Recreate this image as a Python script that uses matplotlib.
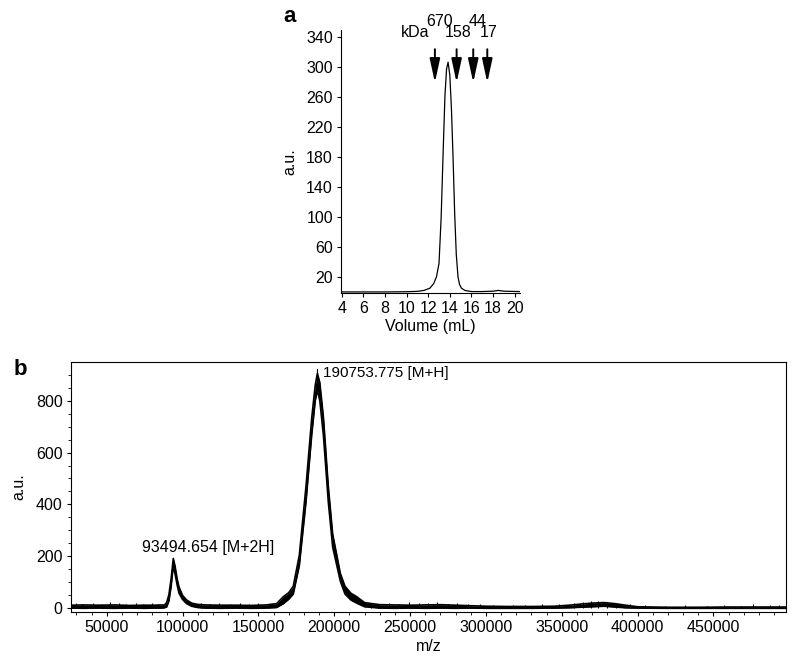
import numpy as np
import matplotlib
matplotlib.use("Agg")
import matplotlib.pyplot as plt

plt.rcParams['font.family'] = ['Liberation Sans', 'DejaVu Sans']
plt.rcParams['font.size'] = 11.5

# --- panel a: gel filtration trace ---
vol_a = [3.95, 8.0, 10.0, 11.0, 11.6, 12.15, 12.5, 12.76, 13.0, 13.2, 13.4,
         13.55, 13.7, 13.84, 14.0, 14.15, 14.3, 14.45, 14.6, 14.76, 14.9,
         15.08, 15.4, 16.0, 17.0, 18.0, 18.5, 19.0, 20.5]
au_a = [0, 0, 0.3, 0.8, 2, 5, 11, 20, 38, 100, 195, 262, 298, 307, 290, 245,
        180, 105, 50, 20, 10, 5, 2, 0.5, 0.5, 1, 2, 1, 0.5]

# marker standards (kDa) and elution volume
std_labels = ['670', '158', '44', '17']
std_vol = [12.62, 14.63, 16.17, 17.47]
std_text_x = [13.08, 14.78, 16.58, 17.56]
std_text_y = [362, 346, 362, 346]

# --- panel b: mass spectrum (band low / high envelope) ---
mz_b = [26500, 35000, 45000, 55000, 65000, 75000, 82000, 86000, 88000, 89500,
        91000, 92500, 93900, 95000, 96500, 97700, 100000, 102700, 106000,
        110000, 115000, 125000, 135000, 145000, 155000, 162000, 166500,
        170000, 173000, 177000, 181400, 185200, 187500, 188900, 190500,
        192900, 196100, 199000, 201700, 204000, 207100, 211000, 214800,
        220000, 230000, 240000, 250000, 260000, 270000, 280000, 290000,
        300000, 315000, 330000, 345000, 355000, 362000, 370000, 378000,
        385000, 392000, 400000, 420000, 440000, 460000, 480000, 498000]
lo_b = [1, 0, 1, 0, 1, 0, 1, 1, 2, 5,
        28, 85, 165, 135, 88, 58, 34, 18, 8,
        3, 1, 0, 1, 0, 1, 3, 18,
        35, 55, 165, 410, 670, 800, 840, 800,
        665, 410, 235, 165, 105, 55, 32, 20,
        6, 1, 0, 1, 0, 1, 0, 1,
        0, 0, 0, 1, 2, 4, 6, 8,
        5, 2, 1, 0, 0, 0, 0, 0]
hi_b = [12, 13, 12, 13, 11, 12, 12, 13, 12, 22,
        52, 115, 192, 165, 112, 82, 50, 32, 20,
        15, 13, 12, 12, 11, 13, 18, 45,
        60, 85, 205, 470, 735, 860, 905, 870,
        735, 470, 285, 205, 135, 85, 58, 45,
        22, 14, 13, 12, 13, 14, 12, 10,
        8, 7, 7, 8, 12, 16, 20, 22,
        18, 12, 6, 4, 4, 5, 5, 5]

# single noise spikes above the baseline band
spike_mz = [30000, 34000, 41000, 47000, 52000, 58000, 63000, 69000, 74000,
            80000, 84000, 112000, 118000, 124000, 131000, 138000, 144000,
            150000, 157000, 224000, 229000, 236000, 243000, 249000, 256000,
            262000, 268000, 275000, 281000, 288000, 296000, 305000, 318000,
            326000, 337000, 348000, 358000, 364000, 369000, 374000, 380000,
            386000, 395000, 405000, 418000, 431000, 446000, 457000, 468000,
            476000, 487000, 493000]
spike_h = [22, 18, 20, 16, 24, 19, 17, 21, 18, 20, 17, 20, 18, 22, 17, 19, 18,
           20, 16, 20, 18, 22, 17, 24, 19, 21, 26, 18, 20, 17, 15, 13, 14, 12,
           15, 18, 22, 25, 27, 28, 26, 22, 16, 12, 10, 11, 9, 12, 10, 16, 11,
           12]

peak_labels = ['93494.654 [M+2H]', '190753.775 [M+H]']
peak_text_x = [116800, 192800]
peak_text_y = [233, 908]

fig = plt.figure(figsize=(8.0, 6.71), dpi=100)

# panel a
ax1 = fig.add_axes([0.4266, 0.5638, 0.2234, 0.3915])
ax1.plot(vol_a, au_a, color='black', lw=0.9)
ax1.set_xlim(3.95, 20.5)
ax1.set_ylim(-1, 350)
ax1.set_xticks(range(4, 21, 2))
ax1.set_yticks(range(20, 341, 40))
ax1.spines['top'].set_visible(False)
ax1.spines['right'].set_visible(False)
ax1.tick_params(direction='out', length=3, width=0.8, pad=3, labelsize=11.5)
ax1.set_xlabel('Volume (mL)', labelpad=2)
ax1.set_ylabel('a.u.', labelpad=6)
for v in std_vol:
    ax1.annotate('', xy=(v, 276), xytext=(v, 328),
                 arrowprops=dict(arrowstyle='-|>,head_length=1.25,head_width=0.27',
                                 color='black', lw=1.4))
for lab, tx, ty in zip(std_labels, std_text_x, std_text_y):
    ax1.text(tx, ty, lab, ha='center', va='center', clip_on=False)
ax1.text(10.76, 346, 'kDa', ha='center', va='center', clip_on=False)
fig.text(0.362, 0.975, 'a', fontsize=16, fontweight='bold', ha='center', va='center')

# panel b
ax2 = fig.add_axes([0.0888, 0.0884, 0.894, 0.3726])
ax2.fill_between(mz_b, lo_b, hi_b, color='black', lw=0)
ax2.plot(mz_b, lo_b, color='black', lw=1.2)
ax2.plot(mz_b, hi_b, color='black', lw=1.2)
ax2.vlines(spike_mz, 2, spike_h, color='black', lw=0.8)
ax2.set_xlim(26500, 498000)
ax2.set_ylim(-13, 950)
ax2.set_xticks(range(50000, 450001, 50000))
ax2.set_xticks(range(30000, 498000, 10000), minor=True)
ax2.set_yticks(range(0, 801, 200))
ax2.set_yticks(range(0, 901, 50), minor=True)
ax2.tick_params(direction='out', length=3, width=0.8, pad=3)
ax2.tick_params(which='minor', direction='out', length=2, width=0.6)
for s in ax2.spines.values():
    s.set_linewidth(0.8)
ax2.set_xlabel('m/z', labelpad=3)
ax2.set_ylabel('a.u.', labelpad=7)
ax2.text(peak_text_x[0], peak_text_y[0], peak_labels[0], ha='center', va='center')
ax2.text(peak_text_x[1], peak_text_y[1], peak_labels[1], ha='left', va='center',
         fontsize=11)
ax2.plot([188900, 188900], [905, 920], color='black', lw=0.8)
fig.text(0.025, 0.4486, 'b', fontsize=16, fontweight='bold', ha='center', va='center')

fig.savefig('out.png', dpi=100)
